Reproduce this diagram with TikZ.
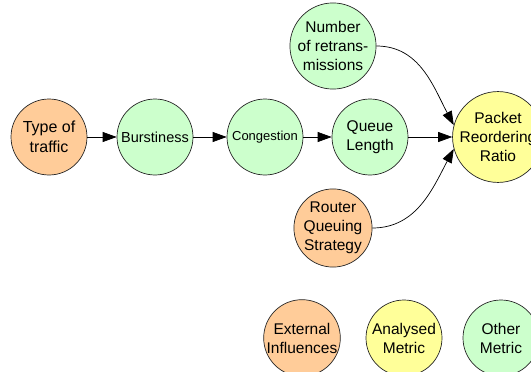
\documentclass[tikz,border=0pt]{standalone}
\usepackage{fontspec}
\setmainfont{Liberation Sans}
\usetikzlibrary{arrows.meta}
\definecolor{extc}{HTML}{FFCC99}
\definecolor{anac}{HTML}{FFFF99}
\definecolor{othc}{HTML}{CCFFCC}
\tikzset{
  bubble/.style={circle, draw=black!85, line width=0.7pt, minimum size=76pt, inner sep=0pt, align=center, font=\fontsize{15.5}{19}\selectfont},
  ext/.style={bubble, fill=extc},
  ana/.style={bubble, fill=anac},
  oth/.style={bubble, fill=othc},
  conn/.style={line width=0.7pt, -{Triangle[length=14pt,width=10pt]}}
}
\begin{document}
\begin{tikzpicture}[x=1pt,y=-1pt]
\useasboundingbox (0,0) rectangle (531,372);
\node[ext, font=\fontsize{16}{20}\selectfont] (type) at (49,137) {Type of\\traffic};
\node[oth, font=\fontsize{14.5}{18}\selectfont] (burst) at (155,137) {Burstiness};
\node[oth, font=\fontsize{13}{16}\selectfont] (cong) at (265,137) {Congestion};
\node[oth] (queue) at (370,137) {Queue\\Length};
\node[ana] (pack) at (498,137) {Packet\\Reordering\\Ratio};
\node[oth] (retr) at (333,46) {Number\\of retrans-\\missions};
\node[ext] (rout) at (333,228) {Router\\Queuing\\Strategy};
\node[ext] (lext) at (302,338) {External\\Influences};
\node[ana] (lana) at (404,338) {Analysed\\Metric};
\node[oth] (loth) at (501,338) {Other\\Metric};
\draw[conn] (type) -- (burst);
\draw[conn] (burst) -- (cong);
\draw[conn] (cong) -- (queue);
\draw[conn] (queue) -- (pack);
\draw[conn] (retr.east) to[out=0,in=118] (pack.165);
\draw[conn] (rout.east) to[out=0,in=-118] (pack.195);
\end{tikzpicture}
\end{document}
